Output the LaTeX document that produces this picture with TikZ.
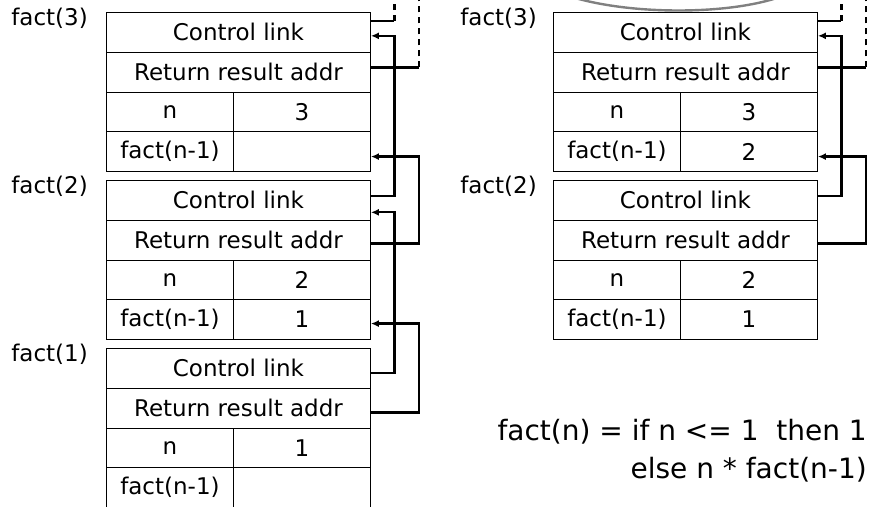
\documentclass[tikz,border=0pt]{standalone}
\usepackage{fontspec}
\setmainfont{DejaVu Sans}
\usetikzlibrary{arrows.meta}

\tikzset{
  row/.style = {draw, anchor=north west, minimum width=264pt, minimum height=39.75pt, inner sep=0pt, line width=0.9pt},
  keycell/.style = {row, minimum width=127pt},
  valcell/.style = {row, minimum width=137pt},
  framename/.style = {anchor=base east, inner sep=0pt},
  wire/.style = {line width=2.2pt},
  back/.style = {wire, -{Latex[length=8pt,width=7pt]}},
  upwire/.style = {wire, dash pattern=on 6pt off 5pt},
}

\begin{document}
\begin{tikzpicture}[x=1pt, y=-1pt, font=\fontsize{23}{27}\selectfont]
		\useasboundingbox (0,0) rectangle (874,506);
		\clip (0,0) rectangle (874,506);
		\coordinate (top) at (0,-6);
		% Vasen pino
		% fact(3)
		\node[framename] (la3) at (88,25) {fact(3)};
		\node[row] (cl3) at (106,12) {Control link};
		\node[row] (ra3) at (106,51.75) {Return result addr};
		\node[keycell] (nk3) at (106,91.5) {n};
		\node[valcell] (nv3) at (233,91.5) {3};
		\node[keycell] (fk3) at (106,131.25) {fact(n-1)};
		\node[valcell] (fv3) at (233,131.25) {};
		% fact(2)
		\node[framename] (la2) at (88,193) {fact(2)};
		\node[row] (cl2) at (106,180) {Control link};
		\node[row] (ra2) at (106,219.75) {Return result addr};
		\node[keycell] (nk2) at (106,259.5) {n};
		\node[valcell] (nv2) at (233,259.5) {2};
		\node[keycell] (fk2) at (106,299.25) {fact(n-1)};
		\node[valcell] (fv2) at (233,299.25) {1};
		% fact(1)
		\node[framename] (la1) at (88,361) {fact(1)};
		\node[row] (cl1) at (106,348) {Control link};
		\node[row] (ra1) at (106,387.75) {Return result addr};
		\node[keycell] (nk1) at (106,427.5) {n};
		\node[valcell] (nv1) at (233,427.5) {1};
		\node[keycell] (fk1) at (106,467.25) {fact(n-1)};
		\node[valcell] (fv1) at (233,467.25) {};
		% Oikea pino
		% fact(3)
		\node[framename] (lb3) at (537,25) {fact(3)};
		\node[row] (bcl3) at (553,12) {Control link};
		\node[row] (bra3) at (553,51.75) {Return result addr};
		\node[keycell] (bnk3) at (553,91.5) {n};
		\node[valcell] (bnv3) at (680,91.5) {3};
		\node[keycell] (bfk3) at (553,131.25) {fact(n-1)};
		\node[valcell] (bfv3) at (680,131.25) {2};
		% fact(2)
		\node[framename] (lb2) at (537,193) {fact(2)};
		\node[row] (bcl2) at (553,180) {Control link};
		\node[row] (bra2) at (553,219.75) {Return result addr};
		\node[keycell] (bnk2) at (553,259.5) {n};
		\node[valcell] (bnv2) at (680,259.5) {2};
		\node[keycell] (bfk2) at (553,299.25) {fact(n-1)};
		\node[valcell] (bfv2) at (680,299.25) {1};
		% Kaava
		\node[anchor=base east, inner sep=0pt, font=\fontsize{28}{32}\selectfont] (def1) at (867,440) {fact(n) = if n <= 1\ \ then 1};
		\node[anchor=base east, inner sep=0pt, font=\fontsize{28}{32}\selectfont] (def2) at (867,478) {else n * fact(n-1)};
		% Linkit, vasen
		\draw[wire] ([yshift=11.5pt]cl3.east) -- ++(23.5,0) coordinate (lu1);
		\draw[upwire] (lu1) -- (lu1 |- top);
		\draw[wire] ([yshift=4.6pt]ra3.east) -- ++(48,0) coordinate (lu2);
		\draw[upwire] (lu2) -- (lu2 |- top);
		\draw[back] ([yshift=4pt]cl2.east) -- ++(23.5,0) |- ([yshift=-3.5pt]cl3.east);	% cl2 -> cl3
		\draw[back] ([yshift=-3.4pt]ra2.east) -- ++(48,0) |- ([yshift=-5pt]fv3.east);	% ra2 -> fv3
		\draw[back] ([yshift=-4.5pt]cl1.east) -- ++(23.5,0) |- ([yshift=-12pt]cl2.east);	% cl1 -> cl2
		\draw[back] ([yshift=-4.4pt]ra1.east) -- ++(48,0) |- ([yshift=-4pt]fv2.east);	% ra1 -> fv2
		% Linkit, oikea
		\draw[wire] ([yshift=11.5pt]bcl3.east) -- ++(23.5,0) coordinate (ru1);
		\draw[upwire] (ru1) -- (ru1 |- top);
		\draw[wire] ([yshift=4.6pt]bra3.east) -- ++(48,0) coordinate (ru2);
		\draw[upwire] (ru2) -- (ru2 |- top);
		\draw[back] ([yshift=4pt]bcl2.east) -- ++(23.5,0) |- ([yshift=-3.5pt]bcl3.east);	% bcl2 -> bcl3
		\draw[back] ([yshift=-3.4pt]bra2.east) -- ++(48,0) |- ([yshift=-5pt]bfv3.east);	% bra2 -> bfv3
		% Kaari ylhaalla
		\coordinate (arcA) at (548,-12);
		\coordinate (arcB) at (800,-12);
		\draw[gray, line width=2.4pt] (arcA) .. controls (610,18) and (750,18) .. (arcB);
\end{tikzpicture}
\end{document}
